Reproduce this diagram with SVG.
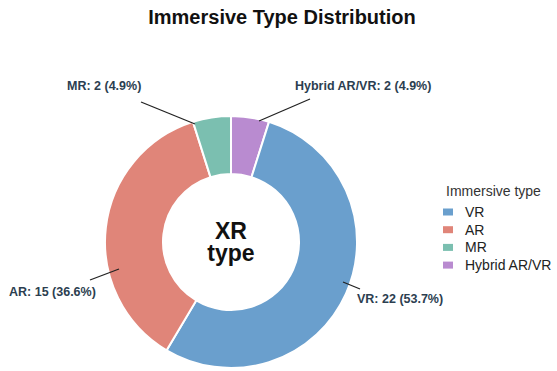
<svg xmlns="http://www.w3.org/2000/svg" width="557" height="371" viewBox="0 0 557 371">
  <style>
    .title { font-family: "Liberation Sans", Arial, sans-serif; font-size: 20px; font-weight: bold; fill: #111111; }
    .center { font-family: "Liberation Sans", Arial, sans-serif; font-size: 23px; font-weight: bold; fill: #111111; text-anchor: middle; }
    .label { font-family: "Liberation Sans", Arial, sans-serif; font-size: 12.5px; font-weight: bold; fill: #2c3e50; }
    .legend-title { font-family: "Liberation Sans", Arial, sans-serif; font-size: 14px; fill: #333333; }
    .legend-text { font-family: "Liberation Sans", Arial, sans-serif; font-size: 14px; fill: #222222; }
    .wedge { stroke: #ffffff; stroke-width: 2; stroke-linejoin: miter; }
    .leader { stroke: #222222; stroke-width: 1.3; fill: none; }
    .vr { fill: #6a9fcd; }
    .ar { fill: #e08579; }
    .mr { fill: #7bbfb0; }
    .hy { fill: #b98bd0; }
  </style>

  <rect x="0" y="0" width="557" height="371" fill="#ffffff"/>

  <text class="title" x="282" y="24" text-anchor="middle">Immersive Type Distribution</text>

  <!-- donut wedges: centre (231,242), outer r 126, inner r 68 -->
  <g id="wedge-hybrid">
    <path class="wedge hy" d="M231,116 A126,126 0 0 1 269.01,121.87 L251.51,177.17 A68,68 0 0 0 231,174 Z"/>
  </g>
  <g id="wedge-vr">
    <path class="wedge vr" d="M269.01,121.87 A126,126 0 1 1 166.61,350.30 L196.25,300.45 A68,68 0 1 0 251.51,177.17 Z"/>
  </g>
  <g id="wedge-ar">
    <path class="wedge ar" d="M166.61,350.30 A126,126 0 0 1 192.99,121.87 L210.49,177.17 A68,68 0 0 0 196.25,300.45 Z"/>
  </g>
  <g id="wedge-mr">
    <path class="wedge mr" d="M192.99,121.87 A126,126 0 0 1 231,116 L231,174 A68,68 0 0 0 210.49,177.17 Z"/>
  </g>

  <g id="center-label">
    <text class="center" x="231" y="239">XR</text>
    <text class="center" x="231" y="261">type</text>
  </g>

  <!-- leader lines -->
  <g id="connectors">
    <line class="leader" x1="310" y1="99" x2="259" y2="121"/>
    <line class="leader" x1="141" y1="102" x2="195" y2="124"/>
    <line class="leader" x1="90" y1="280" x2="119" y2="269"/>
    <line class="leader" x1="343" y1="282" x2="360" y2="289"/>
  </g>

  <g id="labels">
    <text class="label" x="295" y="90">Hybrid AR/VR: 2 (4.9%)</text>
    <text class="label" x="67" y="90">MR: 2 (4.9%)</text>
    <text class="label" x="9" y="296">AR: 15 (36.6%)</text>
    <text class="label" x="357" y="303">VR: 22 (53.7%)</text>
  </g>

  <g id="legend">
    <text class="legend-title" x="446" y="196">Immersive type</text>
    <rect class="vr" x="443" y="208.5" width="10" height="7"/>
    <text class="legend-text" x="465" y="217">VR</text>
    <rect class="ar" x="443" y="226.2" width="10" height="7"/>
    <text class="legend-text" x="465" y="234.7">AR</text>
    <rect class="mr" x="443" y="243.9" width="10" height="7"/>
    <text class="legend-text" x="465" y="252.4">MR</text>
    <rect class="hy" x="443" y="261.6" width="10" height="7"/>
    <text class="legend-text" x="465" y="270.1">Hybrid AR/VR</text>
  </g>
</svg>
